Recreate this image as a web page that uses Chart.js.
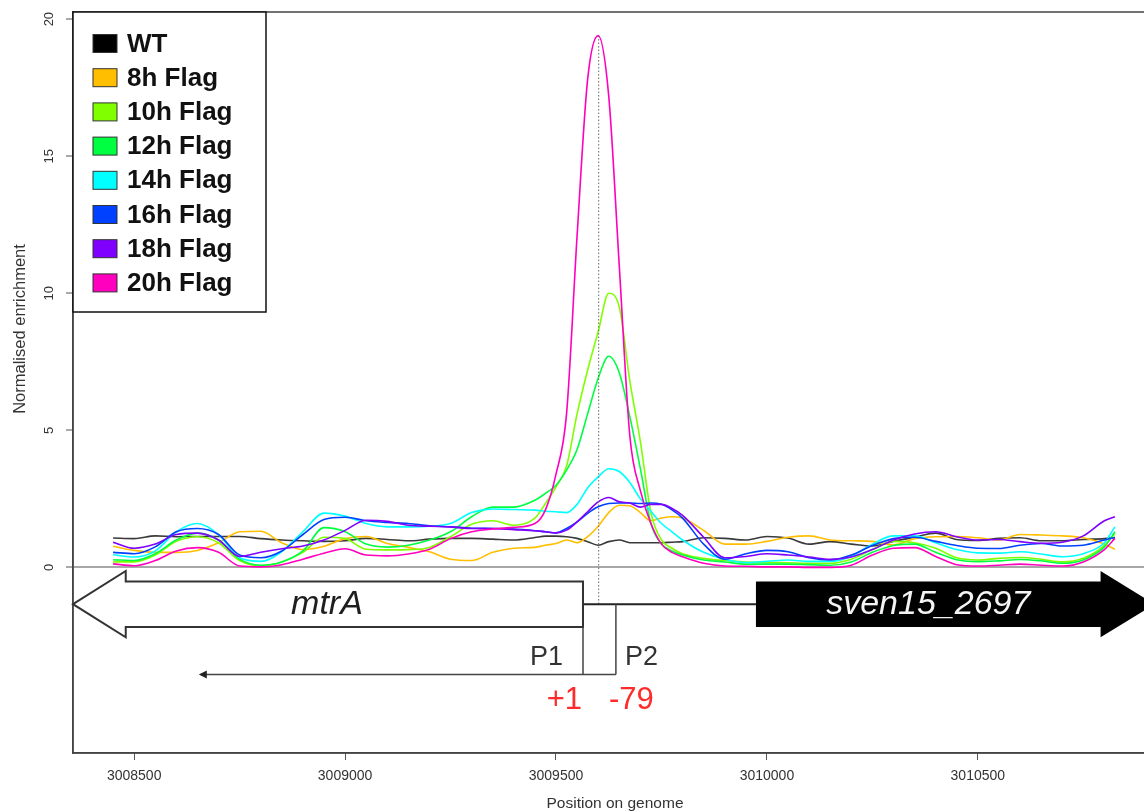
<!DOCTYPE html>
<html>
<head>
<meta charset="utf-8">
<title>ChIP enrichment around mtrA</title>
<script src="https://cdn.jsdelivr.net/npm/chart.js@4.4.1/dist/chart.umd.min.js"></script>
<style>
  html, body { margin: 0; padding: 0; background: #fff; overflow: hidden; }
  #wrap { position: absolute; left: 0; top: 0; width: 1170px; height: 811px; }
</style>
</head>
<body>
<div id="wrap"><canvas id="chart" width="1170" height="811"></canvas></div>
<script>
// genome positions of the probes (bp)
const positions = [
  3008450, 3008500, 3008550, 3008600, 3008650, 3008700, 3008750, 3008800, 3008850, 3008900,
  3008950, 3009000, 3009050, 3009100, 3009150, 3009200, 3009250, 3009300, 3009350, 3009400,
  3009450, 3009475, 3009500, 3009525, 3009550, 3009575, 3009600, 3009625, 3009650, 3009675,
  3009700, 3009725, 3009750, 3009775, 3009800, 3009850, 3009900, 3009950, 3010000, 3010050,
  3010100, 3010150, 3010200, 3010250, 3010300, 3010350, 3010400, 3010450, 3010500, 3010550,
  3010600, 3010650, 3010700, 3010750, 3010800, 3010825
];

// normalised enrichment per sample
const wt = [
  1.07, 1.05, 1.15, 1.12, 1.13, 1.13, 1.13, 1.05, 1.0, 0.97,
  0.95, 0.97, 1.06, 1.02, 0.97, 1.03, 1.06, 1.06, 1.03, 1.0,
  1.09, 1.14, 1.14, 1.12, 1.06, 0.94, 0.81, 0.94, 1.0, 0.9,
  0.9, 0.9, 0.9, 0.92, 0.94, 1.08, 1.06, 1.0, 1.13, 1.07,
  0.85, 0.94, 0.85, 0.78, 0.95, 1.1, 1.25, 1.02, 0.98, 1.06,
  1.08, 0.97, 0.97, 1.02, 1.05, 1.09
];
const flag8h = [
  0.77, 0.62, 0.55, 0.55, 0.62, 0.9, 1.3, 1.32, 0.9, 0.65,
  0.77, 1.05, 1.13, 0.87, 0.73, 0.57, 0.3, 0.25, 0.55, 0.7,
  0.73, 0.81, 0.87, 1.0, 0.9, 1.12, 1.5, 2.0, 2.27, 2.25,
  2.0, 1.7, 1.8, 1.85, 1.8, 1.35, 0.85, 0.85, 0.95, 1.1,
  1.15, 1.0, 0.97, 0.95, 0.82, 1.05, 1.12, 1.13, 1.08, 1.0,
  1.2, 1.18, 1.15, 1.08, 0.85, 0.66
];
const flag10h = [
  0.2, 0.2, 0.45, 0.95, 1.12, 0.9, 0.25, 0.06, 0.2, 0.55,
  1.1, 1.05, 0.66, 0.64, 0.65, 0.73, 1.12, 1.57, 1.7, 1.54,
  1.8, 2.33, 2.94, 3.7, 5.6, 7.2, 8.6, 10.0, 9.5, 6.8,
  4.6, 2.0, 1.0, 0.7, 0.5, 0.33, 0.25, 0.2, 0.18, 0.17,
  0.15, 0.15, 0.3, 0.65, 0.95, 0.9, 0.7, 0.35, 0.27, 0.33,
  0.36, 0.3, 0.2, 0.33, 0.8, 1.24
];
const flag12h = [
  0.28, 0.25, 0.5, 1.0, 1.25, 1.0, 0.3, 0.08, 0.2, 0.6,
  1.45, 1.3, 0.85, 0.74, 0.81, 1.0, 1.3, 1.85, 2.2, 2.2,
  2.45, 2.7, 3.0, 3.55, 4.3, 5.6, 6.9, 7.7, 7.1, 5.5,
  3.6, 1.6, 0.85, 0.6, 0.45, 0.27, 0.2, 0.12, 0.12, 0.12,
  0.1, 0.08, 0.2, 0.55, 0.8, 0.85, 0.55, 0.28, 0.21, 0.24,
  0.29, 0.24, 0.15, 0.27, 0.75, 1.3
];
const flag14h = [
  0.46, 0.38, 0.6, 1.3, 1.6, 1.2, 0.35, 0.22, 0.58, 1.3,
  1.98, 1.87, 1.6, 1.48, 1.48, 1.5, 1.6, 2.0, 2.13, 2.11,
  2.09, 2.05, 2.03, 2.0, 2.3, 2.9, 3.3, 3.6, 3.5, 3.1,
  2.5, 2.05, 1.6, 1.3, 1.0, 0.55, 0.3, 0.18, 0.22, 0.27,
  0.22, 0.22, 0.4, 0.85, 1.15, 1.15, 0.9, 0.65, 0.53, 0.52,
  0.57, 0.49, 0.39, 0.5, 0.9, 1.48
];
const flag16h = [
  0.55, 0.5, 0.75, 1.3, 1.42, 1.2, 0.45, 0.35, 0.6, 1.2,
  1.75, 1.83, 1.7, 1.64, 1.6, 1.52, 1.48, 1.43, 1.42, 1.4,
  1.34, 1.3, 1.26, 1.42, 1.66, 1.97, 2.21, 2.33, 2.35, 2.35,
  2.33, 2.35, 2.3, 2.1, 1.8, 0.85, 0.3, 0.5, 0.62, 0.57,
  0.35, 0.27, 0.45, 0.8, 1.05, 1.1, 0.95, 0.8, 0.7, 0.69,
  0.81, 0.87, 0.78, 0.81, 1.0, 1.09
];
const flag18h = [
  0.92, 0.7, 0.85, 1.2, 1.25, 1.0, 0.4, 0.55, 0.68, 0.78,
  1.0, 1.35, 1.72, 1.68, 1.54, 1.5, 1.48, 1.42, 1.42, 1.38,
  1.34, 1.3, 1.26, 1.36, 1.66, 2.03, 2.39, 2.55, 2.39, 2.35,
  2.2, 2.3, 2.3, 2.15, 1.9, 1.1, 0.35, 0.4, 0.5, 0.45,
  0.38, 0.3, 0.38, 0.65, 1.0, 1.22, 1.3, 1.12, 1.0, 1.02,
  0.94, 0.88, 0.92, 1.15, 1.7, 1.85
];
const flag20h = [
  0.13, 0.06, 0.25, 0.6, 0.72, 0.55, 0.05, 0.02, 0.1, 0.3,
  0.52, 0.68, 0.45, 0.42, 0.49, 0.66, 1.05, 1.3, 1.4, 1.46,
  1.6, 2.1, 3.4, 5.6, 12.1, 17.8, 19.4, 17.2, 11.0, 4.8,
  2.8, 1.6, 0.85, 0.55, 0.39, 0.15, 0.05, 0.04, 0.02, 0.02,
  0.0, 0.0, 0.08, 0.45, 0.7, 0.72, 0.4, 0.1, 0.05, 0.08,
  0.12, 0.08, 0.05, 0.2, 0.65, 1.06
];

const seriesLabels = ["WT", "8h Flag", "10h Flag", "12h Flag", "14h Flag", "16h Flag", "18h Flag", "20h Flag"];
const seriesValues = [wt, flag8h, flag10h, flag12h, flag14h, flag16h, flag18h, flag20h];
const seriesColors = ["#000000", "#FFBF00", "#80FF00", "#00FF40", "#00FFFF", "#0040FF", "#8000FF", "#FF00BF"];

const xTicks = [3008500, 3009000, 3009500, 3010000, 3010500];
const yTicks = [0, 5, 10, 15, 20];

// gene map drawn under the axis (genome coordinates, enrichment units for the lanes)
const geneMtrA = { tip: 3008355, headBase: 3008480, end: 3009564, labelAt: 3008957 };
const geneSven = { start: 3009974, headBase: 3010791, tip: 3010919 };
const promoterP1 = 3009564;
const promoterP2 = 3009642;
const transcriptEnd = 3008658;
const peakCentre = 3009600;
const lane = { centre: -1.34, body: 0.83, head: 1.21, base: -3.91, pLabel: -3.27, offsetLabel: -4.86 };

const FONT = "'Liberation Sans', Arial, Helvetica, sans-serif";

const datasets = seriesValues.map((vals, i) => ({
  label: seriesLabels[i],
  data: positions.map((x, j) => ({ x: x, y: vals[j] })),
  borderColor: i === 0 ? "#3a3a3a" : seriesColors[i],
  backgroundColor: seriesColors[i],
  borderWidth: 1.6,
  pointRadius: 0,
  cubicInterpolationMode: "monotone",
  order: seriesValues.length - i
}));

// box round the plot region
const framePlugin = {
  id: "frame",
  beforeDatasetsDraw(chart) {
    const { ctx, chartArea: a } = chart;
    ctx.save();
    ctx.strokeStyle = "#444";
    ctx.lineWidth = 1.5;
    ctx.strokeRect(a.left, a.top, a.right - a.left, a.bottom - a.top);
    ctx.restore();
  }
};

// mtrA / sven15_2697 map, promoters and peak centre
const genePlugin = {
  id: "genes",
  afterDatasetsDraw(chart) {
    const ctx = chart.ctx;
    const px = v => chart.scales.x.getPixelForValue(v);
    const py = v => chart.scales.y.getPixelForValue(v);
    const c = lane.centre;
    ctx.save();

    // dotted line through the summit
    ctx.strokeStyle = "#666";
    ctx.lineWidth = 1;
    ctx.setLineDash([1.5, 2]);
    ctx.beginPath();
    ctx.moveTo(px(peakCentre) + 0.5, py(Math.max(...flag20h)));
    ctx.lineTo(px(peakCentre) + 0.5, py(c));
    ctx.stroke();
    ctx.setLineDash([]);

    // intergenic line
    ctx.strokeStyle = "#222";
    ctx.lineWidth = 2;
    ctx.beginPath();
    ctx.moveTo(px(geneMtrA.end), py(c));
    ctx.lineTo(px(geneSven.start), py(c));
    ctx.stroke();

    // mtrA, open arrow pointing left
    ctx.beginPath();
    ctx.moveTo(px(geneMtrA.tip), py(c));
    ctx.lineTo(px(geneMtrA.headBase), py(c + lane.head));
    ctx.lineTo(px(geneMtrA.headBase), py(c + lane.body));
    ctx.lineTo(px(geneMtrA.end), py(c + lane.body));
    ctx.lineTo(px(geneMtrA.end), py(c - lane.body));
    ctx.lineTo(px(geneMtrA.headBase), py(c - lane.body));
    ctx.lineTo(px(geneMtrA.headBase), py(c - lane.head));
    ctx.closePath();
    ctx.fillStyle = "#fff";
    ctx.fill();
    ctx.strokeStyle = "#333";
    ctx.lineWidth = 2;
    ctx.stroke();

    // sven15_2697, filled arrow pointing right
    ctx.beginPath();
    ctx.moveTo(px(geneSven.start), py(c + lane.body));
    ctx.lineTo(px(geneSven.headBase), py(c + lane.body));
    ctx.lineTo(px(geneSven.headBase), py(c + lane.head));
    ctx.lineTo(px(geneSven.tip), py(c));
    ctx.lineTo(px(geneSven.headBase), py(c - lane.head));
    ctx.lineTo(px(geneSven.headBase), py(c - lane.body));
    ctx.lineTo(px(geneSven.start), py(c - lane.body));
    ctx.closePath();
    ctx.fillStyle = "#000";
    ctx.fill();

    // gene names
    ctx.font = "italic 34px " + FONT;
    ctx.textAlign = "center";
    ctx.textBaseline = "middle";
    ctx.fillStyle = "#1e1e1e";
    ctx.fillText("mtrA", px(geneMtrA.labelAt), py(c));
    ctx.fillStyle = "#f4f4f4";
    ctx.fillText("sven15_2697", (px(geneSven.start) + px(geneSven.headBase)) / 2, py(c));

    // promoters and transcript
    ctx.strokeStyle = "#444";
    ctx.lineWidth = 1.5;
    ctx.beginPath();
    ctx.moveTo(px(promoterP1), py(c - lane.body));
    ctx.lineTo(px(promoterP1), py(lane.base));
    ctx.moveTo(px(promoterP2), py(c));
    ctx.lineTo(px(promoterP2), py(lane.base));
    ctx.moveTo(px(promoterP2), py(lane.base));
    ctx.lineTo(px(transcriptEnd), py(lane.base));
    ctx.stroke();
    const ax = px(transcriptEnd), ay = py(lane.base);
    ctx.fillStyle = "#222";
    ctx.beginPath();
    ctx.moveTo(ax - 2, ay);
    ctx.lineTo(ax + 6, ay - 4);
    ctx.lineTo(ax + 6, ay + 4);
    ctx.closePath();
    ctx.fill();

    ctx.font = "27px " + FONT;
    ctx.fillStyle = "#333";
    ctx.textAlign = "right";
    ctx.fillText("P1", px(promoterP1) - 20, py(lane.pLabel));
    ctx.textAlign = "left";
    ctx.fillText("P2", px(promoterP2) + 9, py(lane.pLabel));

    ctx.font = "31px " + FONT;
    ctx.fillStyle = "#ff2a2a";
    ctx.textAlign = "right";
    ctx.fillText("+1", px(promoterP1) - 1, py(lane.offsetLabel));
    ctx.textAlign = "left";
    ctx.fillText("-79", px(promoterP2) - 7, py(lane.offsetLabel));
    ctx.restore();
  }
};

// boxed legend in the top left corner
const legendPlugin = {
  id: "boxLegend",
  afterDraw(chart) {
    const ctx = chart.ctx;
    const a = chart.chartArea;
    const left = a.left, top = a.top, w = 193, h = 300;
    ctx.save();
    ctx.fillStyle = "#fff";
    ctx.fillRect(left, top, w, h);
    ctx.strokeStyle = "#111";
    ctx.lineWidth = 1.5;
    ctx.strokeRect(left, top, w, h);
    ctx.font = "bold 26px " + FONT;
    ctx.textAlign = "left";
    ctx.textBaseline = "middle";
    chart.data.datasets.forEach((ds, i) => {
      const y = top + 31.5 + i * 34.2;
      ctx.fillStyle = ds.backgroundColor;
      ctx.fillRect(left + 20, y - 9, 24, 18);
      ctx.strokeStyle = "#333";
      ctx.lineWidth = 1;
      ctx.strokeRect(left + 20, y - 9, 24, 18);
      ctx.fillStyle = "#111";
      ctx.fillText(ds.label, left + 54, y + 1);
    });
    ctx.restore();
  }
};

// axis titles
const titlePlugin = {
  id: "axisTitles",
  afterDraw(chart) {
    const ctx = chart.ctx;
    const a = chart.chartArea;
    ctx.save();
    ctx.fillStyle = "#333";
    ctx.textAlign = "center";
    ctx.textBaseline = "middle";
    ctx.font = "15.5px " + FONT;
    ctx.fillText("Position on genome", 615, 804);
    ctx.translate(20, 329);
    ctx.rotate(-Math.PI / 2);
    ctx.font = "16.5px " + FONT;
    ctx.fillText("Normalised enrichment", 0, 0);
    ctx.restore();
  }
};

new Chart(document.getElementById("chart"), {
  type: "line",
  data: { datasets },
  plugins: [framePlugin, genePlugin, legendPlugin, titlePlugin],
  options: {
    responsive: false,
    animation: false,
    parsing: true,
    layout: { padding: { left: 0, right: 15, top: 12, bottom: 0 } },
    plugins: {
      legend: { display: false },
      tooltip: { enabled: false }
    },
    scales: {
      x: {
        type: "linear",
        min: 3008355,
        max: 3010920,
        afterBuildTicks: s => { s.ticks = xTicks.map(v => ({ value: v })); },
        afterFit: s => { s.height = 58; s.paddingLeft = 0; s.paddingRight = 0; },
        grid: { drawOnChartArea: false, drawTicks: true, tickLength: 7, tickColor: "#555", tickWidth: 1 },
        border: { display: true, color: "#444", width: 1.5 },
        ticks: {
          padding: 8,
          autoSkip: false,
          maxRotation: 0,
          color: "#333",
          font: { family: FONT, size: 14 },
          callback: v => String(v)
        }
      },
      y: {
        min: -6.77,
        max: 20.26,
        afterBuildTicks: s => { s.ticks = yTicks.map(v => ({ value: v })); },
        afterFit: s => { s.width = 73; s.paddingTop = 0; s.paddingBottom = 0; },
        grid: {
          color: ctx => (ctx.tick && ctx.tick.value === 0 ? "#a8a8a8" : "rgba(0,0,0,0)"),
          lineWidth: 2,
          drawTicks: true,
          tickLength: 7,
          tickColor: "#555",
          tickWidth: 1
        },
        border: { display: true, color: "#444", width: 1.5 },
        ticks: {
          padding: 9,
          crossAlign: "center",
          minRotation: 90,
          maxRotation: 90,
          color: "#333",
          font: { family: FONT, size: 13 },
          callback: v => String(v)
        }
      }
    }
  }
});
</script>
</body>
</html>
